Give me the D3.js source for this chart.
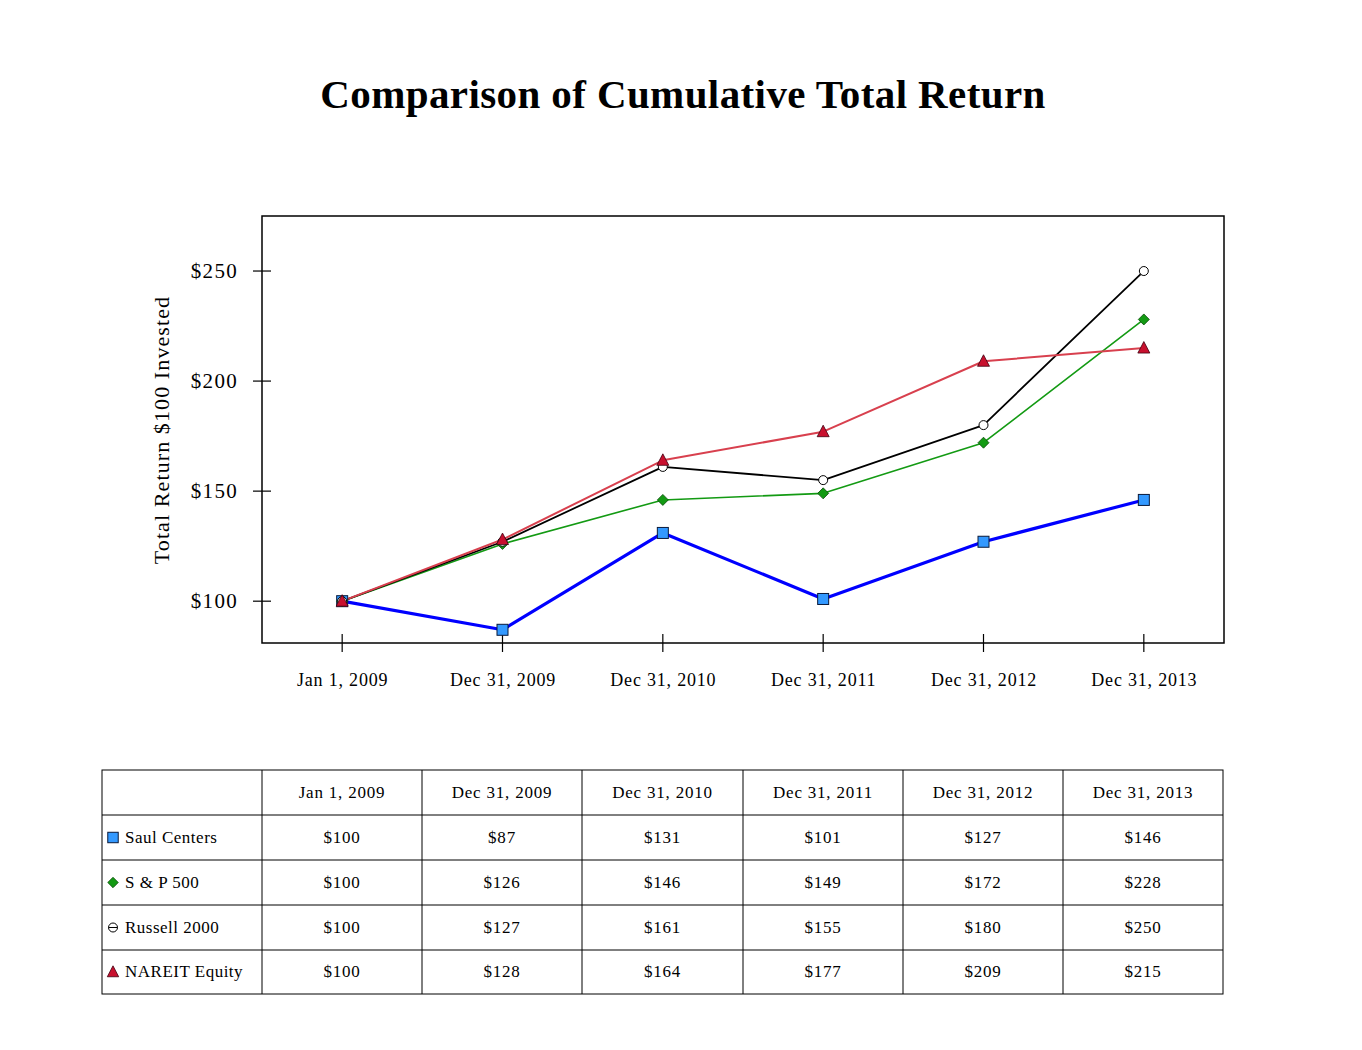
<!DOCTYPE html>
<html><head><meta charset="utf-8">
<script src="https://cdn.jsdelivr.net/npm/d3@7"></script>
<style>body{margin:0;background:#fff}svg{display:block}</style>
</head><body>
<svg id="c" width="1362" height="1050"></svg>
<script>
const categories = ["Jan 1, 2009","Dec 31, 2009","Dec 31, 2010","Dec 31, 2011","Dec 31, 2012","Dec 31, 2013"];
const saulCenters = [100, 87, 131, 101, 127, 146];
const sp500 = [100, 126, 146, 149, 172, 228];
const russell2000 = [100, 127, 161, 155, 180, 250];
const nareitEquity = [100, 128, 164, 177, 209, 215];
const yTicks = [100, 150, 200, 250];
const seriesNames = ["Saul Centers","S & P 500","Russell 2000","NAREIT Equity"];

const series = [
  {name: seriesNames[0], values: saulCenters, color:"#0000ff", width:3.2, marker:"square", fill:"#3399ff"},
  {name: seriesNames[1], values: sp500, color:"#139a13", width:1.6, marker:"diamond", fill:"#139a13"},
  {name: seriesNames[2], values: russell2000, color:"#000000", width:1.8, marker:"circle", fill:"#ffffff"},
  {name: seriesNames[3], values: nareitEquity, color:"#d8404e", width:2, marker:"triangle", fill:"#c8102e"}
];

const svg = d3.select("#c");
const font = "'Liberation Serif','Times New Roman',serif";
const L=262, R=1224, T=216, B=643;
const x = d3.scalePoint().domain(categories).range([L,R]).padding(0.5);
const y = d3.scaleLinear().domain([81, 275]).range([B,T]);

svg.append("text").attr("x",683).attr("y",108).attr("text-anchor","middle")
  .attr("font-family",font).attr("font-weight","bold").attr("font-size",41).attr("letter-spacing",0.4).text("Comparison of Cumulative Total Return");

svg.append("rect").attr("x",L).attr("y",T).attr("width",R-L).attr("height",B-T)
  .attr("fill","none").attr("stroke","#000").attr("stroke-width",1.5);

// Y axis
const yAxis = svg.append("g").attr("transform",`translate(${L},0)`)
  .call(d3.axisLeft(y).tickValues(yTicks).tickFormat(d=>"$"+d).tickSize(0).tickPadding(24));
yAxis.select(".domain").remove();
yAxis.selectAll("text").attr("font-family",font).attr("font-size",21).attr("letter-spacing",1.3).attr("fill","#000");
svg.append("g").selectAll("line").data(yTicks).join("line")
  .attr("x1",L-9).attr("x2",L+9).attr("y1",d=>y(d)).attr("y2",d=>y(d)).attr("stroke","#000").attr("stroke-width",1.2);

// X axis
const xAxis = svg.append("g").attr("transform",`translate(0,${B})`)
  .call(d3.axisBottom(x).tickSize(0).tickPadding(30));
xAxis.select(".domain").remove();
xAxis.selectAll("text").attr("font-family",font).attr("font-size",18).attr("letter-spacing",0.8).attr("fill","#000");
svg.append("g").selectAll("line").data(categories).join("line")
  .attr("x1",d=>x(d)).attr("x2",d=>x(d)).attr("y1",B-9).attr("y2",B+9).attr("stroke","#000").attr("stroke-width",1.2);

svg.append("text").attr("transform","translate(169,430) rotate(-90)").attr("text-anchor","middle")
  .attr("font-family",font).attr("font-size",22).attr("letter-spacing",1.1).text("Total Return $100 Invested");

function drawMarker(g, type, cx, cy, fill, scale){
  scale = scale||1;
  if(type==="square") g.append("rect").attr("x",cx-5.5*scale).attr("y",cy-5.5*scale).attr("width",11*scale).attr("height",11*scale).attr("fill",fill).attr("stroke","#0a1a3a").attr("stroke-width",1);
  else if(type==="diamond") g.append("path").attr("d",`M${cx},${cy-5.5*scale}L${cx+5.5*scale},${cy}L${cx},${cy+5.5*scale}L${cx-5.5*scale},${cy}Z`).attr("fill",fill).attr("stroke","#0a4a0a").attr("stroke-width",0.8);
  else if(type==="circle") g.append("circle").attr("cx",cx).attr("cy",cy).attr("r",4.5*scale).attr("fill",fill).attr("stroke","#000").attr("stroke-width",1);
  else if(type==="triangle") g.append("path").attr("d",`M${cx},${cy-6.5*scale}L${cx+6*scale},${cy+5*scale}L${cx-6*scale},${cy+5*scale}Z`).attr("fill",fill).attr("stroke","#400010").attr("stroke-width",0.8);
}
function drawLegendMarker(g, type, cx, cy, fill){
  if(type==="circle"){
    g.append("circle").attr("cx",cx).attr("cy",cy).attr("r",4.5).attr("fill","#fff").attr("stroke","#000").attr("stroke-width",1);
    g.append("line").attr("x1",cx-4.5).attr("x2",cx+4.5).attr("y1",cy).attr("y2",cy).attr("stroke","#000").attr("stroke-width",1);
  } else drawMarker(g,type,cx,cy,fill,0.95);
}

const line = d3.line().x((d,i)=>x(categories[i])).y(d=>y(d));
const lg = svg.append("g");
[series[1],series[2],series[3],series[0]].forEach(s=>{
  lg.append("path").attr("d",line(s.values)).attr("fill","none").attr("stroke",s.color).attr("stroke-width",s.width).attr("stroke-linejoin","round");
});
const mg = svg.append("g");
series.forEach(s=>{
  s.values.forEach((v,i)=>drawMarker(mg,s.marker,x(categories[i]),y(v),s.fill));
});

// Table
const colX = [102,262,422,582,743,903,1063,1223];
const rowY = [770,815,860,905,950,994];
const tg = svg.append("g");
tg.append("rect").attr("x",colX[0]).attr("y",rowY[0]).attr("width",colX[7]-colX[0]).attr("height",rowY[5]-rowY[0]).attr("fill","none").attr("stroke","#000").attr("stroke-width",1);
colX.slice(1,7).forEach(cx=>tg.append("line").attr("x1",cx).attr("x2",cx).attr("y1",rowY[0]).attr("y2",rowY[5]).attr("stroke","#000").attr("stroke-width",1));
rowY.slice(1,5).forEach(ry=>tg.append("line").attr("x1",colX[0]).attr("x2",colX[7]).attr("y1",ry).attr("y2",ry).attr("stroke","#000").attr("stroke-width",1));
categories.forEach((c,i)=>{
  tg.append("text").attr("x",(colX[i+1]+colX[i+2])/2).attr("y",(rowY[0]+rowY[1])/2+5).attr("text-anchor","middle")
    .attr("font-family",font).attr("font-size",17).attr("letter-spacing",0.8).text(c);
});
series.forEach((s,r)=>{
  const cy=(rowY[r+1]+rowY[r+2])/2;
  drawLegendMarker(tg,s.marker,113,cy,s.fill);
  tg.append("text").attr("x",125).attr("y",cy+5).attr("font-family",font).attr("font-size",17).attr("letter-spacing",0.5).text(s.name);
  s.values.forEach((v,i)=>{
    tg.append("text").attr("x",(colX[i+1]+colX[i+2])/2).attr("y",cy+5).attr("text-anchor","middle")
      .attr("font-family",font).attr("font-size",17).attr("letter-spacing",0.8).text("$"+v);
  });
});
</script>
</body></html>
